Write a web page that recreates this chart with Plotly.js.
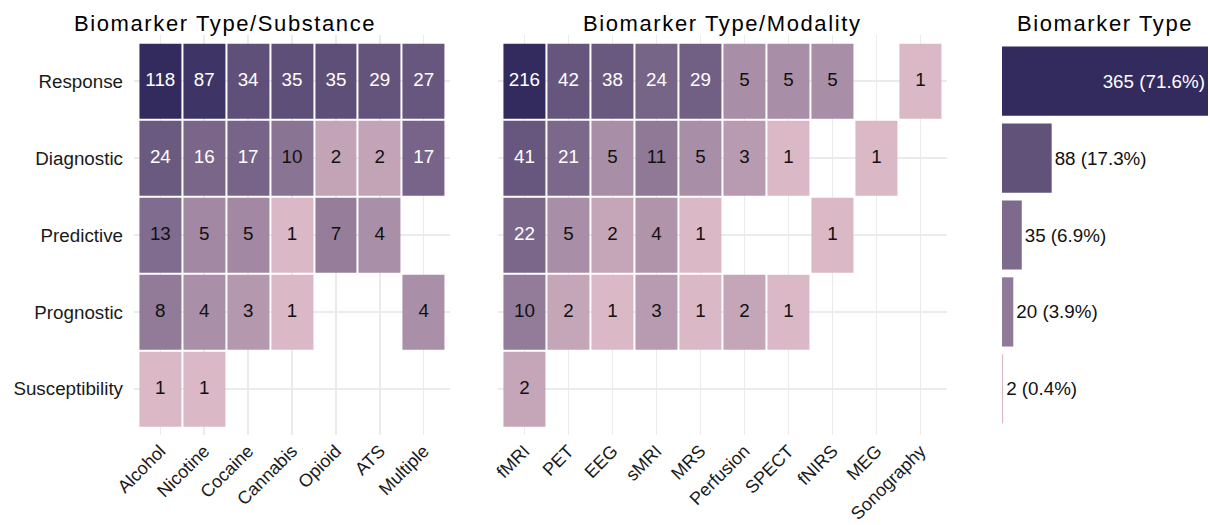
<!DOCTYPE html>
<html>
<head>
<meta charset="utf-8">
<script src="https://cdn.plot.ly/plotly-3.0.1.min.js"></script>
<style>
  html, body { margin: 0; padding: 0; background: #fff; }
  #chart { width: 1210px; height: 525px; }
  .annotation-text { letter-spacing: 1.6px; }
</style>
</head>
<body>
<div id="chart"></div>
<script>
// ---- data ----
const biomarkerTypes = ['Response', 'Diagnostic', 'Predictive', 'Prognostic', 'Susceptibility'];

const substances = ['Alcohol', 'Nicotine', 'Cocaine', 'Cannabis', 'Opioid', 'ATS', 'Multiple'];
const subResponse       = [118, 87, 34, 35, 35, 29, 27];
const subDiagnostic     = [24, 16, 17, 10, 2, 2, 17];
const subPredictive     = [13, 5, 5, 1, 7, 4, null];
const subPrognostic     = [8, 4, 3, 1, null, null, 4];
const subSusceptibility = [1, 1, null, null, null, null, null];

const modalities = ['fMRI', 'PET', 'EEG', 'sMRI', 'MRS', 'Perfusion', 'SPECT', 'fNIRS', 'MEG', 'Sonography'];
const modResponse       = [216, 42, 38, 24, 29, 5, 5, 5, null, 1];
const modDiagnostic     = [41, 21, 5, 11, 5, 3, 1, null, 1, null];
const modPredictive     = [22, 5, 2, 4, 1, null, null, 1, null, null];
const modPrognostic     = [10, 2, 1, 3, 1, 2, 1, null, null, null];
const modSusceptibility = [2, null, null, null, null, null, null, null, null, null];

const typeCounts = [365, 88, 35, 20, 2];

// ---- styling ----
const LOW = '#dab8c5', HIGH = '#332b5e';
const cscale = [[0, LOW], [1, HIGH]];
const FONT = 'Liberation Sans, Arial, sans-serif';
const GRID = '#ebebeb';
const TXT = 18.8;

function heatTraces(cols, rowsData, xa, ya) {
  const z = rowsData.map(r => r.map(v => v == null ? null : Math.log(v)));
  let maxV = 1;
  rowsData.forEach(r => r.forEach(v => { if (v != null && v > maxV) maxV = v; }));
  const zmax = Math.log(maxV);
  const heat = {
    type: 'heatmap', x: cols, y: biomarkerTypes, z: z,
    colorscale: cscale, zmin: 0, zmax: zmax, showscale: false,
    xgap: 2, ygap: 2, hoverinfo: 'skip', xaxis: xa, yaxis: ya
  };
  const tx = [], ty = [], tt = [], tc = [];
  rowsData.forEach((r, i) => r.forEach((v, j) => {
    if (v == null) return;
    tx.push(cols[j]); ty.push(biomarkerTypes[i]); tt.push(String(v));
    tc.push(Math.log(v) / zmax > 0.55 ? '#ffffff' : '#111111');
  }));
  const txt = {
    type: 'scatter', mode: 'text', x: tx, y: ty, text: tt,
    textfont: { family: FONT, size: TXT, color: tc },
    textposition: 'middle center', hoverinfo: 'skip', xaxis: xa, yaxis: ya,
    cliponaxis: false
  };
  return [heat, txt];
}

const subRows = [subResponse, subDiagnostic, subPredictive, subPrognostic, subSusceptibility];
const modRows = [modResponse, modDiagnostic, modPredictive, modPrognostic, modSusceptibility];

const total = typeCounts.reduce((a, b) => a + b, 0);
const barLabels = typeCounts.map(v => v + ' (' + (100 * v / total).toFixed(1) + '%)');
const barMin = Math.min(...typeCounts), barMax = Math.max(...typeCounts);

const barTrace = {
  type: 'bar', orientation: 'h', x: typeCounts, y: biomarkerTypes,
  xaxis: 'x3', yaxis: 'y3', width: 0.9,
  marker: { color: typeCounts.map(v => Math.log(v)), colorscale: cscale,
            cmin: Math.log(barMin), cmax: Math.log(barMax), line: { width: 0 } },
  text: barLabels,
  textposition: typeCounts.map(v => v === barMax ? 'inside' : 'outside'),
  insidetextanchor: 'end',
  constraintext: 'none',
  textfont: { family: FONT, size: TXT, color: typeCounts.map(v => v === barMax ? '#ffffff' : '#111111') },
  cliponaxis: false, hoverinfo: 'skip'
};

const data = [
  ...heatTraces(substances, subRows, 'x', 'y'),
  ...heatTraces(modalities, modRows, 'x2', 'y2'),
  barTrace
];

const W = 1210, H = 525;
const yDom = [1 - 435 / H, 1 - 35 / H];
const tickFont = { family: FONT, size: TXT, color: '#1a1a1a' };
const xTickFont = { family: FONT, size: 18, color: '#1a1a1a' };

const baseX = {
  type: 'category', showgrid: true, gridcolor: GRID, gridwidth: 1.6,
  zeroline: false, showline: false, ticks: '', tickangle: -45,
  tickfont: xTickFont, ticklabelstandoff: 1, fixedrange: true
};
const baseY = {
  type: 'category', showgrid: true, gridcolor: GRID, gridwidth: 1.6,
  zeroline: false, showline: false, ticks: '', range: [4.6, -0.6],
  tickfont: tickFont, fixedrange: true, categoryorder: 'array', categoryarray: biomarkerTypes
};

const layout = {
  width: W, height: H,
  margin: { l: 0, r: 0, t: 0, b: 0 },
  paper_bgcolor: '#ffffff', plot_bgcolor: '#ffffff',
  showlegend: false,
  font: { family: FONT, color: '#111111' },
  bargap: 0.1,
  xaxis: Object.assign({}, baseX, { domain: [134 / W, 450 / W], anchor: 'y',
    range: [-0.6, 6.6], categoryorder: 'array', categoryarray: substances }),
  yaxis: Object.assign({}, baseY, { domain: yDom, anchor: 'x', ticklabelstandoff: 10 }),
  xaxis2: Object.assign({}, baseX, { domain: [498 / W, 947 / W], anchor: 'y2',
    range: [-0.6, 9.6], categoryorder: 'array', categoryarray: modalities }),
  yaxis2: Object.assign({}, baseY, { domain: yDom, anchor: 'x2', showticklabels: false }),
  xaxis3: { domain: [1002 / W, 1208 / W], anchor: 'y3', range: [0, barMax],
    showgrid: false, zeroline: false, showline: false, showticklabels: false, ticks: '', fixedrange: true },
  yaxis3: Object.assign({}, baseY, { domain: yDom, anchor: 'x3', showgrid: false, showticklabels: false }),
  annotations: [
    { text: 'Biomarker Type/Substance', x: 225 / W, y: 1 - 24 / H },
    { text: 'Biomarker Type/Modality', x: 722 / W, y: 1 - 24 / H },
    { text: 'Biomarker Type', x: 1105 / W, y: 1 - 24 / H }
  ].map(a => Object.assign(a, { xref: 'paper', yref: 'paper', xanchor: 'center', yanchor: 'middle',
    showarrow: false, font: { family: FONT, size: 22, color: '#000000' } }))
};

Plotly.newPlot('chart', data, layout, { displayModeBar: false, staticPlot: true });
</script>
</body>
</html>
